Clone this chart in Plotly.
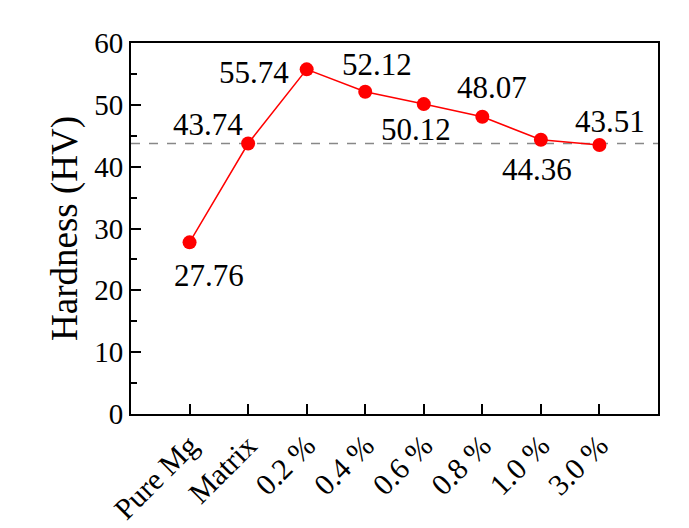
import plotly.graph_objects as go

categories = ["Pure Mg", "Matrix", "0.2 %", "0.4 %", "0.6 %", "0.8 %", "1.0 %", "3.0 %"]
hardness = [27.76, 43.74, 55.74, 52.12, 50.12, 48.07, 44.36, 43.51]
reference_level = 43.74
# label offsets in pixels (dx, dy) relative to each point
label_offsets = [(19, -33), (-40, 19), (-53, -3), (12, 27), (-8, -25), (10, 29), (-4, -30), (11, 23)]

FONT = "Liberation Serif"

xs = list(range(len(categories)))
fig = go.Figure()
fig.add_trace(go.Scatter(
    x=xs, y=hardness, mode="lines+markers",
    line=dict(color="#ff0000", width=1.5),
    marker=dict(color="#ff0000", size=14),
    showlegend=False,
))

fig.add_shape(type="line", xref="paper", x0=0, x1=1, yref="y", y0=reference_level, y1=reference_level,
              line=dict(color="#888888", width=1.5, dash="dash"), layer="below")

for x, v, (dx, dy) in zip(xs, hardness, label_offsets):
    fig.add_annotation(x=x, y=v, xref="x", yref="y", text=f"{v:.2f}", showarrow=False,
                       xshift=dx, yshift=dy, font=dict(family=FONT, size=31, color="black"))

fig.update_layout(
    width=681, height=520,
    margin=dict(l=123, r=31, t=35, b=114),
    plot_bgcolor="white", paper_bgcolor="white",
    font=dict(family=FONT, color="black"),
)
fig.update_xaxes(
    range=[-1, 8], tickmode="array", tickvals=xs, ticktext=categories,
    tickangle=-45, ticks="inside", ticklen=10, tickwidth=2, tickcolor="black",
    showline=True, linewidth=2, linecolor="black", mirror=True, automargin=False,
    showgrid=False, zeroline=False, tickfont=dict(family=FONT, size=30),
)
fig.update_yaxes(
    range=[0, 60], tickvals=[0, 10, 20, 30, 40, 50, 60],
    ticks="inside", ticklen=10, tickwidth=2, tickcolor="black",
    minor=dict(tickvals=[5, 15, 25, 35, 45, 55], ticks="inside", ticklen=6, tickwidth=2, tickcolor="black"),
    showline=True, linewidth=2, linecolor="black", mirror=True, automargin=False,
    showgrid=False, zeroline=False, tickfont=dict(family=FONT, size=29),
    title=dict(text="Hardness (HV)", font=dict(family=FONT, size=37), standoff=5),
)
fig.write_html("out.html")
